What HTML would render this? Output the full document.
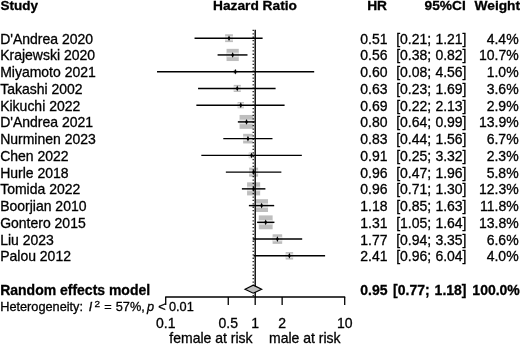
<!DOCTYPE html>
<html lang="en"><head><meta charset="utf-8"><title>Forest plot</title>
<style>
html,body{margin:0;padding:0;background:#fff;}
body{width:520px;height:345px;overflow:hidden;}
svg{display:block;}
text{stroke:#000;stroke-width:0.3px;font-family:"Liberation Sans",Arial,Helvetica,sans-serif;font-size:14.0px;fill:#000;}
.b{font-weight:bold;font-size:14px;}
.h{font-size:12.75px;}
.i{font-style:italic;}
.s{font-size:10px;}
.st{font-size:13.5px;}
.hd{font-size:13.75px;}
</style></head><body>
<svg width="520" height="345" viewBox="0 0 520 345">
<rect x="0" y="0" width="520" height="345" fill="#fff"/>
<g>
<rect x="225.12" y="34.29" width="7.82" height="7.82" fill="#bebebe"/>
<rect x="225.12" y="35.90" width="7.82" height="4.60" fill="#fff" fill-opacity="0.6"/>
<rect x="226.56" y="48.84" width="12.20" height="12.20" fill="#bebebe"/>
<rect x="226.56" y="52.64" width="12.20" height="4.60" fill="#fff" fill-opacity="0.6"/>
<rect x="233.48" y="69.82" width="3.73" height="3.73" fill="#bebebe"/>
<rect x="233.48" y="69.82" width="3.73" height="3.73" fill="#fff" fill-opacity="0.6"/>
<rect x="233.70" y="84.88" width="7.08" height="7.08" fill="#bebebe"/>
<rect x="233.70" y="86.12" width="7.08" height="4.60" fill="#fff" fill-opacity="0.6"/>
<rect x="237.60" y="101.98" width="6.35" height="6.35" fill="#bebebe"/>
<rect x="237.60" y="102.86" width="6.35" height="4.60" fill="#fff" fill-opacity="0.6"/>
<rect x="239.57" y="114.95" width="13.91" height="13.91" fill="#bebebe"/>
<rect x="239.57" y="119.60" width="13.91" height="4.60" fill="#fff" fill-opacity="0.6"/>
<rect x="243.13" y="133.81" width="9.65" height="9.65" fill="#bebebe"/>
<rect x="243.13" y="136.34" width="9.65" height="4.60" fill="#fff" fill-opacity="0.6"/>
<rect x="248.71" y="152.55" width="5.66" height="5.66" fill="#bebebe"/>
<rect x="248.71" y="153.08" width="5.66" height="4.60" fill="#fff" fill-opacity="0.6"/>
<rect x="249.12" y="167.63" width="8.98" height="8.98" fill="#bebebe"/>
<rect x="249.12" y="169.82" width="8.98" height="4.60" fill="#fff" fill-opacity="0.6"/>
<rect x="247.07" y="182.32" width="13.08" height="13.08" fill="#bebebe"/>
<rect x="247.07" y="186.56" width="13.08" height="4.60" fill="#fff" fill-opacity="0.6"/>
<rect x="255.23" y="199.19" width="12.81" height="12.81" fill="#bebebe"/>
<rect x="255.23" y="203.30" width="12.81" height="4.60" fill="#fff" fill-opacity="0.6"/>
<rect x="258.77" y="215.41" width="13.86" height="13.86" fill="#bebebe"/>
<rect x="258.77" y="220.04" width="13.86" height="4.60" fill="#fff" fill-opacity="0.6"/>
<rect x="272.60" y="234.29" width="9.58" height="9.58" fill="#bebebe"/>
<rect x="272.60" y="236.78" width="9.58" height="4.60" fill="#fff" fill-opacity="0.6"/>
<rect x="285.66" y="252.09" width="7.46" height="7.46" fill="#bebebe"/>
<rect x="285.66" y="253.52" width="7.46" height="4.60" fill="#fff" fill-opacity="0.6"/>
<line x1="255.2" y1="29.8" x2="255.2" y2="297" stroke="#000" stroke-width="1.4"/>
<line x1="253.21" y1="29.8" x2="253.21" y2="297" stroke="#000" stroke-width="1.2" stroke-dasharray="1.3 2.1"/>
<line x1="194.54" y1="38.20" x2="262.61" y2="38.20" stroke="#000" stroke-width="1.45"/>
<polygon points="227.63,38.20 229.03,35.40 230.43,38.20 229.03,41.00" fill="#000"/>
<line x1="217.59" y1="54.94" x2="247.49" y2="54.94" stroke="#000" stroke-width="1.45"/>
<polygon points="231.26,54.94 232.66,52.14 234.06,54.94 232.66,57.74" fill="#000"/>
<line x1="157.03" y1="71.68" x2="314.18" y2="71.68" stroke="#000" stroke-width="1.45"/>
<polygon points="233.94,71.68 235.34,68.88 236.74,71.68 235.34,74.48" fill="#000"/>
<line x1="198.07" y1="88.42" x2="275.60" y2="88.42" stroke="#000" stroke-width="1.45"/>
<polygon points="235.84,88.42 237.24,85.62 238.64,88.42 237.24,91.22" fill="#000"/>
<line x1="196.35" y1="105.16" x2="284.59" y2="105.16" stroke="#000" stroke-width="1.45"/>
<polygon points="239.38,105.16 240.78,102.36 242.18,105.16 240.78,107.96" fill="#000"/>
<line x1="237.85" y1="121.90" x2="254.81" y2="121.90" stroke="#000" stroke-width="1.45"/>
<polygon points="245.13,121.90 246.53,119.10 247.93,121.90 246.53,124.70" fill="#000"/>
<line x1="223.29" y1="138.64" x2="272.48" y2="138.64" stroke="#000" stroke-width="1.45"/>
<polygon points="246.56,138.64 247.96,135.84 249.36,138.64 247.96,141.44" fill="#000"/>
<line x1="201.32" y1="155.38" x2="301.84" y2="155.38" stroke="#000" stroke-width="1.45"/>
<polygon points="250.13,155.38 251.53,152.58 252.93,155.38 251.53,158.18" fill="#000"/>
<line x1="225.85" y1="172.12" x2="281.36" y2="172.12" stroke="#000" stroke-width="1.45"/>
<polygon points="252.21,172.12 253.61,169.32 255.01,172.12 253.61,174.92" fill="#000"/>
<line x1="241.89" y1="188.86" x2="265.40" y2="188.86" stroke="#000" stroke-width="1.45"/>
<polygon points="252.21,188.86 253.61,186.06 255.01,188.86 253.61,191.66" fill="#000"/>
<line x1="248.88" y1="205.60" x2="274.19" y2="205.60" stroke="#000" stroke-width="1.45"/>
<polygon points="260.23,205.60 261.63,202.80 263.03,205.60 261.63,208.40" fill="#000"/>
<line x1="257.10" y1="222.34" x2="274.43" y2="222.34" stroke="#000" stroke-width="1.45"/>
<polygon points="264.30,222.34 265.70,219.54 267.10,222.34 265.70,225.14" fill="#000"/>
<line x1="252.79" y1="239.08" x2="302.19" y2="239.08" stroke="#000" stroke-width="1.45"/>
<polygon points="275.99,239.08 277.39,236.28 278.79,239.08 277.39,241.88" fill="#000"/>
<line x1="253.61" y1="255.82" x2="325.10" y2="255.82" stroke="#000" stroke-width="1.45"/>
<polygon points="287.99,255.82 289.39,253.02 290.79,255.82 289.39,258.62" fill="#000"/>
<polygon points="245.04,289.30 253.21,285.10 261.63,289.30 253.21,293.20" fill="#bebebe" stroke="#000" stroke-width="1.2"/>
<line x1="165.20" y1="297" x2="345.20" y2="297" stroke="#000" stroke-width="1.3"/>
<line x1="165.70" y1="297" x2="165.70" y2="305" stroke="#000" stroke-width="1.3"/>
<line x1="228.26" y1="297" x2="228.26" y2="305" stroke="#000" stroke-width="1.3"/>
<line x1="255.20" y1="297" x2="255.20" y2="305" stroke="#000" stroke-width="1.3"/>
<line x1="282.14" y1="297" x2="282.14" y2="305" stroke="#000" stroke-width="1.3"/>
<line x1="344.70" y1="297" x2="344.70" y2="305" stroke="#000" stroke-width="1.3"/>
</g>
<g>
<text class="b st" transform="scale(1,0.94)" x="0.50" y="10.96">Study</text>
<text class="b hd" transform="scale(1,0.94)" x="255.00" y="10.96" text-anchor="middle">Hazard Ratio</text>
<text class="b hd" transform="scale(1,0.94)" x="387.00" y="10.96" text-anchor="end">HR</text>
<text class="b hd" transform="scale(1,0.94)" x="465.80" y="10.96" text-anchor="end">95%CI</text>
<text class="b hd" transform="scale(1,0.94)" x="520.10" y="10.96" text-anchor="end">Weight</text>
<text transform="scale(1,0.985)" x="0.20" y="44.37">D'Andrea 2020</text>
<text transform="scale(1,0.985)" x="387.50" y="44.37" text-anchor="end">0.51</text>
<text transform="scale(1,0.985)" x="396.20" y="44.37">[0.21;</text>
<text transform="scale(1,0.985)" x="466.50" y="44.37" text-anchor="end">1.21]</text>
<text transform="scale(1,0.985)" x="518.60" y="44.37" text-anchor="end">4.4%</text>
<text transform="scale(1,0.985)" x="0.20" y="61.36">Krajewski 2020</text>
<text transform="scale(1,0.985)" x="387.50" y="61.36" text-anchor="end">0.56</text>
<text transform="scale(1,0.985)" x="396.20" y="61.36">[0.38;</text>
<text transform="scale(1,0.985)" x="466.50" y="61.36" text-anchor="end">0.82]</text>
<text transform="scale(1,0.985)" x="518.60" y="61.36" text-anchor="end">10.7%</text>
<text transform="scale(1,0.985)" x="0.20" y="78.36">Miyamoto 2021</text>
<text transform="scale(1,0.985)" x="387.50" y="78.36" text-anchor="end">0.60</text>
<text transform="scale(1,0.985)" x="396.20" y="78.36">[0.08;</text>
<text transform="scale(1,0.985)" x="466.50" y="78.36" text-anchor="end">4.56]</text>
<text transform="scale(1,0.985)" x="518.60" y="78.36" text-anchor="end">1.0%</text>
<text transform="scale(1,0.985)" x="0.20" y="95.35">Takashi 2002</text>
<text transform="scale(1,0.985)" x="387.50" y="95.35" text-anchor="end">0.63</text>
<text transform="scale(1,0.985)" x="396.20" y="95.35">[0.23;</text>
<text transform="scale(1,0.985)" x="466.50" y="95.35" text-anchor="end">1.69]</text>
<text transform="scale(1,0.985)" x="518.60" y="95.35" text-anchor="end">3.6%</text>
<text transform="scale(1,0.985)" x="0.20" y="112.35">Kikuchi 2022</text>
<text transform="scale(1,0.985)" x="387.50" y="112.35" text-anchor="end">0.69</text>
<text transform="scale(1,0.985)" x="396.20" y="112.35">[0.22;</text>
<text transform="scale(1,0.985)" x="466.50" y="112.35" text-anchor="end">2.13]</text>
<text transform="scale(1,0.985)" x="518.60" y="112.35" text-anchor="end">2.9%</text>
<text transform="scale(1,0.985)" x="0.20" y="129.34">D'Andrea 2021</text>
<text transform="scale(1,0.985)" x="387.50" y="129.34" text-anchor="end">0.80</text>
<text transform="scale(1,0.985)" x="396.20" y="129.34">[0.64;</text>
<text transform="scale(1,0.985)" x="466.50" y="129.34" text-anchor="end">0.99]</text>
<text transform="scale(1,0.985)" x="518.60" y="129.34" text-anchor="end">13.9%</text>
<text transform="scale(1,0.985)" x="0.20" y="146.34">Nurminen 2023</text>
<text transform="scale(1,0.985)" x="387.50" y="146.34" text-anchor="end">0.83</text>
<text transform="scale(1,0.985)" x="396.20" y="146.34">[0.44;</text>
<text transform="scale(1,0.985)" x="466.50" y="146.34" text-anchor="end">1.56]</text>
<text transform="scale(1,0.985)" x="518.60" y="146.34" text-anchor="end">6.7%</text>
<text transform="scale(1,0.985)" x="0.20" y="163.33">Chen 2022</text>
<text transform="scale(1,0.985)" x="387.50" y="163.33" text-anchor="end">0.91</text>
<text transform="scale(1,0.985)" x="396.20" y="163.33">[0.25;</text>
<text transform="scale(1,0.985)" x="466.50" y="163.33" text-anchor="end">3.32]</text>
<text transform="scale(1,0.985)" x="518.60" y="163.33" text-anchor="end">2.3%</text>
<text transform="scale(1,0.985)" x="0.20" y="180.32">Hurle 2018</text>
<text transform="scale(1,0.985)" x="387.50" y="180.32" text-anchor="end">0.96</text>
<text transform="scale(1,0.985)" x="396.20" y="180.32">[0.47;</text>
<text transform="scale(1,0.985)" x="466.50" y="180.32" text-anchor="end">1.96]</text>
<text transform="scale(1,0.985)" x="518.60" y="180.32" text-anchor="end">5.8%</text>
<text transform="scale(1,0.985)" x="0.20" y="197.32">Tomida 2022</text>
<text transform="scale(1,0.985)" x="387.50" y="197.32" text-anchor="end">0.96</text>
<text transform="scale(1,0.985)" x="396.20" y="197.32">[0.71;</text>
<text transform="scale(1,0.985)" x="466.50" y="197.32" text-anchor="end">1.30]</text>
<text transform="scale(1,0.985)" x="518.60" y="197.32" text-anchor="end">12.3%</text>
<text transform="scale(1,0.985)" x="0.20" y="214.31">Boorjian 2010</text>
<text transform="scale(1,0.985)" x="387.50" y="214.31" text-anchor="end">1.18</text>
<text transform="scale(1,0.985)" x="396.20" y="214.31">[0.85;</text>
<text transform="scale(1,0.985)" x="466.50" y="214.31" text-anchor="end">1.63]</text>
<text transform="scale(1,0.985)" x="518.60" y="214.31" text-anchor="end">11.8%</text>
<text transform="scale(1,0.985)" x="0.20" y="231.31">Gontero 2015</text>
<text transform="scale(1,0.985)" x="387.50" y="231.31" text-anchor="end">1.31</text>
<text transform="scale(1,0.985)" x="396.20" y="231.31">[1.05;</text>
<text transform="scale(1,0.985)" x="466.50" y="231.31" text-anchor="end">1.64]</text>
<text transform="scale(1,0.985)" x="518.60" y="231.31" text-anchor="end">13.8%</text>
<text transform="scale(1,0.985)" x="0.20" y="248.30">Liu 2023</text>
<text transform="scale(1,0.985)" x="387.50" y="248.30" text-anchor="end">1.77</text>
<text transform="scale(1,0.985)" x="396.20" y="248.30">[0.94;</text>
<text transform="scale(1,0.985)" x="466.50" y="248.30" text-anchor="end">3.35]</text>
<text transform="scale(1,0.985)" x="518.60" y="248.30" text-anchor="end">6.6%</text>
<text transform="scale(1,0.985)" x="0.20" y="265.30">Palou 2012</text>
<text transform="scale(1,0.985)" x="387.50" y="265.30" text-anchor="end">2.41</text>
<text transform="scale(1,0.985)" x="396.20" y="265.30">[0.96;</text>
<text transform="scale(1,0.985)" x="466.50" y="265.30" text-anchor="end">6.04]</text>
<text transform="scale(1,0.985)" x="518.60" y="265.30" text-anchor="end">4.0%</text>
<text class="b" transform="scale(1,0.985)" x="0.20" y="299.29">Random effects model</text>
<text class="b" transform="scale(1,0.985)" x="387.50" y="299.29" text-anchor="end">0.95</text>
<text class="b" transform="scale(1,0.985)" x="393.10" y="299.29">[0.77;</text>
<text class="b" transform="scale(1,0.985)" x="466.50" y="299.29" text-anchor="end">1.18]</text>
<text class="b" transform="scale(1,0.985)" x="519.80" y="299.29" text-anchor="end">100.0%</text>
<text class="h" transform="scale(1,0.985)" x="0.20" y="315.53">Heterogeneity:</text>
<text class="h i" transform="scale(1,0.985)" x="88.70" y="315.53">I</text>
<text class="s" transform="scale(1,0.985)" x="94.40" y="312.08">2</text>
<text class="h" transform="scale(1,0.985)" x="104.20" y="315.53">=</text>
<text class="h" transform="scale(1,0.985)" x="115.80" y="315.53">57%,</text>
<text class="h i" transform="scale(1,0.985)" x="147.00" y="315.53">p</text>
<text class="h" transform="scale(1,0.985)" x="158.20" y="315.53">&lt;</text>
<text class="h" transform="scale(1,0.985)" x="169.00" y="315.53">0.01</text>
<text transform="scale(1,0.985)" x="165.70" y="332.99" text-anchor="middle">0.1</text>
<text transform="scale(1,0.985)" x="228.26" y="332.99" text-anchor="middle">0.5</text>
<text transform="scale(1,0.985)" x="255.20" y="332.99" text-anchor="middle">1</text>
<text transform="scale(1,0.985)" x="282.14" y="332.99" text-anchor="middle">2</text>
<text transform="scale(1,0.985)" x="344.70" y="332.99" text-anchor="middle">10</text>
<text transform="scale(1,0.985)" x="252.50" y="348.22" text-anchor="end">female at risk</text>
<text transform="scale(1,0.985)" x="269.00" y="348.22">male at risk</text>
</g>
</svg></body></html>
